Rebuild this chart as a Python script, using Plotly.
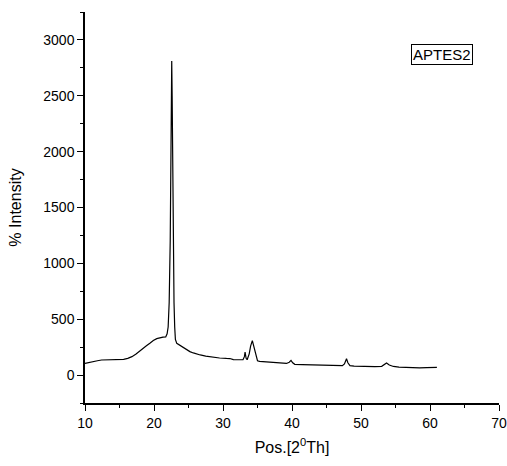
import plotly.graph_objects as go

two_theta = [10.0, 10.6, 11.2, 11.8, 12.4, 13.0, 13.6, 14.3, 15.0, 15.6, 16.2, 16.8, 17.4, 17.9,
             18.4, 18.9, 19.4, 19.9, 20.4, 20.9, 21.3, 21.7, 21.9, 22.05, 22.2, 22.35, 22.45,
             22.52, 22.57, 22.63, 22.7, 22.8, 22.9, 23.0, 23.1, 23.3, 23.7, 24.2, 24.7, 25.2,
             25.7, 26.2, 26.7, 27.5, 28.5, 29.5, 30.5, 31.0, 31.5, 32.2, 32.9, 33.1, 33.2,
             33.35, 33.5, 33.8, 34.0, 34.25, 34.5, 34.75, 35.0, 35.3, 36.0, 37.0, 38.0, 39.2,
             39.6, 39.86, 40.1, 40.4, 41.5, 43.0, 44.5, 46.0, 47.3, 47.6, 47.9, 48.1, 48.4,
             49.0, 49.9, 51.0, 52.0, 53.0, 53.4, 53.7, 54.1, 54.7, 55.5, 56.5, 57.6, 58.5,
             59.5, 61.0]
intensity = [104, 110, 119, 128, 135, 137, 137, 136, 137, 141, 150, 165, 188, 210,
             235, 262, 285, 310, 326, 336, 340, 342, 370, 430, 650, 1200, 1800,
             2500, 2812, 2500, 1800, 1100, 650, 430, 320, 284, 268, 250, 228, 210,
             198, 188, 180, 170, 160, 153, 149, 148, 138, 136, 137, 165, 205,
             150, 137, 190, 260, 308, 250, 170, 128, 122, 118, 113, 108, 104,
             115, 131, 110, 96, 94, 91, 88, 85, 84, 100, 146, 110, 85,
             80, 77, 76, 76, 78, 92, 108, 90, 77, 72, 68, 66, 65,
             67, 68]

sample_label = "APTES2"

fig = go.Figure()
fig.add_trace(go.Scatter(x=two_theta, y=intensity, mode="lines",
                         line=dict(color="black", width=1.2), showlegend=False))

axis_common = dict(showline=True, linecolor="black", linewidth=1.5, showgrid=False,
                   zeroline=False, ticks="outside", ticklen=6, tickwidth=1.2,
                   tickcolor="black", mirror=False, automargin=False,
                   tickfont=dict(family="Liberation Sans, Arial", size=14, color="black"))

fig.update_xaxes(range=[10, 70], dtick=10, tick0=10,
                 minor=dict(dtick=5, ticks="outside", ticklen=3, tickcolor="black", tickwidth=1.2),
                 title=dict(text="Pos.[2<sup>0</sup>Th]", standoff=12,
                            font=dict(family="Liberation Sans, Arial", size=16, color="black")),
                 **axis_common)
fig.update_yaxes(range=[-250, 3250], dtick=500, tick0=0,
                 minor=dict(dtick=250, tick0=0, ticks="outside", ticklen=3, tickcolor="black", tickwidth=1.2),
                 title=dict(text="% Intensity", standoff=18,
                            font=dict(family="Liberation Sans, Arial", size=16, color="black")),
                 **axis_common)

fig.add_annotation(x=61.8, y=2874, xref="x", yref="y", text=sample_label, showarrow=False,
                   font=dict(family="Liberation Sans, Arial", size=15, color="black"),
                   bordercolor="black", borderwidth=1, borderpad=1, bgcolor="white")

fig.update_layout(width=507, height=466, margin=dict(l=85, r=8, t=12, b=63),
                  plot_bgcolor="white", paper_bgcolor="white")

fig.write_html("out.html", config={"displayModeBar": False},
               post_script="document.body.style.margin='0px';")
